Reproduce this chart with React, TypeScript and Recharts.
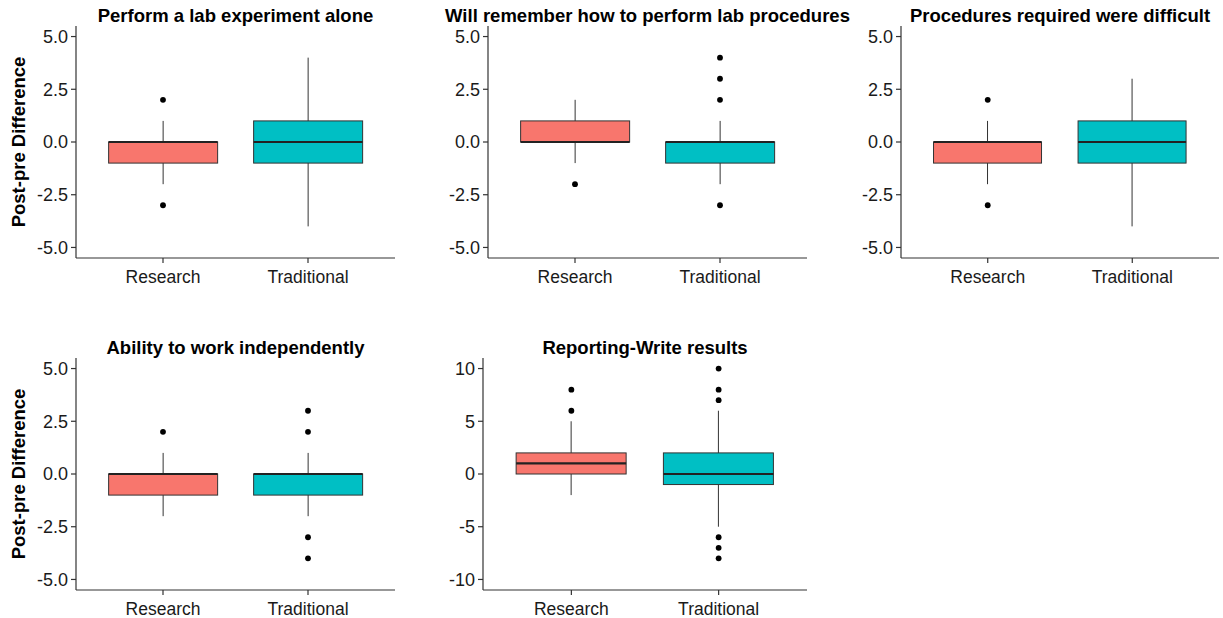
import React from 'react';
import { ComposedChart, Bar, Scatter, XAxis, YAxis } from 'recharts';

const categories = ['Research', 'Traditional'];
const titles = [
  'Perform a lab experiment alone',
  'Will remember how to perform lab procedures',
  'Procedures required were difficult',
  'Ability to work independently',
  'Reporting-Write results'
];

// per panel: [Research, Traditional]
const whiskerLow = [[-2, -4], [-1, -2], [-2, -4], [-2, -2], [-2, -5]];
const q1 = [[-1, -1], [0, -1], [-1, -1], [-1, -1], [0, -1]];
const medians = [[0, 0], [0, 0], [0, 0], [0, 0], [1, 0]];
const q3 = [[0, 1], [1, 0], [0, 1], [0, 0], [2, 2]];
const whiskerHigh = [[1, 4], [2, 1], [1, 3], [1, 1], [5, 6]];
const outliers = [
  [[2, -3], []],
  [[-2], [4, 3, 2, -3]],
  [[2, -3], []],
  [[2], [3, 2, -3, -4]],
  [[8, 6], [10, 8, 7, -6, -7, -8]]
];

const ticksSmall = [-5, -2.5, 0, 2.5, 5];
const ticksLarge = [-10, -5, 0, 5, 10];

const COLORS = ['#F8766D', '#00BFC4'];
const FONT = '"Liberation Sans", Arial, sans-serif';

// plot-area geometry of each panel
const panels = [
  { left: 0, top: 0, x0: 76, x1: 395, yLabel: true, domain: [-5.5, 5.5], ticks: ticksSmall },
  { left: 410, top: 0, x0: 488, x1: 807, yLabel: false, domain: [-5.5, 5.5], ticks: ticksSmall },
  { left: 820, top: 0, x0: 901, x1: 1219, yLabel: false, domain: [-5.5, 5.5], ticks: ticksSmall },
  { left: 0, top: 332, x0: 76, x1: 395, yLabel: true, domain: [-5.5, 5.5], ticks: ticksSmall },
  { left: 410, top: 332, x0: 483, x1: 807, yLabel: false, domain: [-11, 11], ticks: ticksLarge }
];

const MARGIN_TOP = 26;
const PLOT_H = 232;
const XAXIS_H = 32;

const BoxShape = (props: any) => {
  const { x, y, width, height, payload } = props;
  if (x == null || y == null) return null;
  const top = Math.min(y, y + height);
  const bottom = Math.max(y, y + height);
  const [lo, hi] = payload.whisker;
  const px = (v: number) => bottom - ((v - lo) / (hi - lo)) * (bottom - top);
  const cx = x + width / 2;
  return (
    <g>
      <line x1={cx} x2={cx} y1={px(hi)} y2={px(lo)} stroke="#333" strokeWidth={1} />
      <rect
        x={x}
        y={px(payload.q3)}
        width={width}
        height={px(payload.q1) - px(payload.q3)}
        fill={payload.fill}
        stroke="#333"
        strokeWidth={1}
      />
      <line x1={x} x2={x + width} y1={px(payload.median)} y2={px(payload.median)} stroke="#222" strokeWidth={2.2} />
    </g>
  );
};

const Dot = (props: any) => {
  const { cx, cy } = props;
  if (cx == null || cy == null) return null;
  return <circle cx={cx} cy={cy} r={2.9} fill="#000" />;
};

const Panel = ({ index }: { index: number }) => {
  const p = panels[index];
  const data = categories.map((cat, i) => ({
    cat,
    whisker: [whiskerLow[index][i], whiskerHigh[index][i]],
    q1: q1[index][i],
    median: medians[index][i],
    q3: q3[index][i],
    fill: COLORS[i]
  }));
  const outlierData = categories.flatMap((cat, i) =>
    outliers[index][i].map((value) => ({ cat, value }))
  );
  const yWidth = p.x0 - p.left;
  const chartW = p.x1 - p.left + 2;
  const pad = (p.x1 - p.x0) / 22;
  const isLarge = p.ticks === ticksLarge;

  return (
    <div style={{ position: 'absolute', left: p.left, top: p.top }}>
      <div
        style={{
          position: 'absolute',
          left: p.x0 - p.left - 100,
          width: p.x1 - p.x0 + 200,
          top: 7,
          textAlign: 'center',
          fontFamily: FONT,
          fontWeight: 'bold',
          fontSize: 18.5,
          lineHeight: '18.5px',
          color: '#000',
          whiteSpace: 'nowrap'
        }}
      >
        {titles[index]}
      </div>
      <ComposedChart
        width={chartW}
        height={MARGIN_TOP + PLOT_H + XAXIS_H}
        data={data}
        margin={{ top: MARGIN_TOP, right: 2, bottom: 0, left: 0 }}
        barCategoryGap="12.5%"
      >
        <XAxis
          dataKey="cat"
          type="category"
          allowDuplicatedCategory={false}
          padding={{ left: pad, right: pad }}
          height={XAXIS_H}
          tickSize={5}
          tickMargin={8}
          axisLine={{ stroke: '#333', strokeWidth: 1.2 }}
          tickLine={{ stroke: '#333', strokeWidth: 1.2 }}
          tick={{ fill: '#1a1a1a', fontSize: 17.5, fontFamily: FONT }}
        />
        <YAxis
          type="number"
          domain={p.domain}
          ticks={p.ticks}
          width={yWidth}
          tickSize={5}
          tickMargin={3}
          allowDataOverflow
          tickFormatter={(v: number) => (isLarge ? String(v) : v.toFixed(1))}
          axisLine={{ stroke: '#333', strokeWidth: 1.2 }}
          tickLine={{ stroke: '#333', strokeWidth: 1.2 }}
          tick={{ fill: '#1a1a1a', fontSize: 18, fontFamily: FONT }}
          label={
            p.yLabel
              ? {
                  value: 'Post-pre Difference',
                  angle: -90,
                  position: 'insideLeft',
                  offset: 18,
                  style: { textAnchor: 'middle', fontWeight: 'bold', fontSize: 18.5, fill: '#000', fontFamily: FONT }
                }
              : undefined
          }
        />
        <Bar dataKey="whisker" shape={<BoxShape />} isAnimationActive={false} />
        <Scatter data={outlierData} dataKey="value" shape={<Dot />} isAnimationActive={false} />
      </ComposedChart>
    </div>
  );
};

export default function App() {
  return (
    <div style={{ position: 'fixed', left: 0, top: 0, width: 1223, height: 618, background: '#fff', overflow: 'hidden' }}>
      {panels.map((_, i) => (
        <Panel key={i} index={i} />
      ))}
    </div>
  );
}
